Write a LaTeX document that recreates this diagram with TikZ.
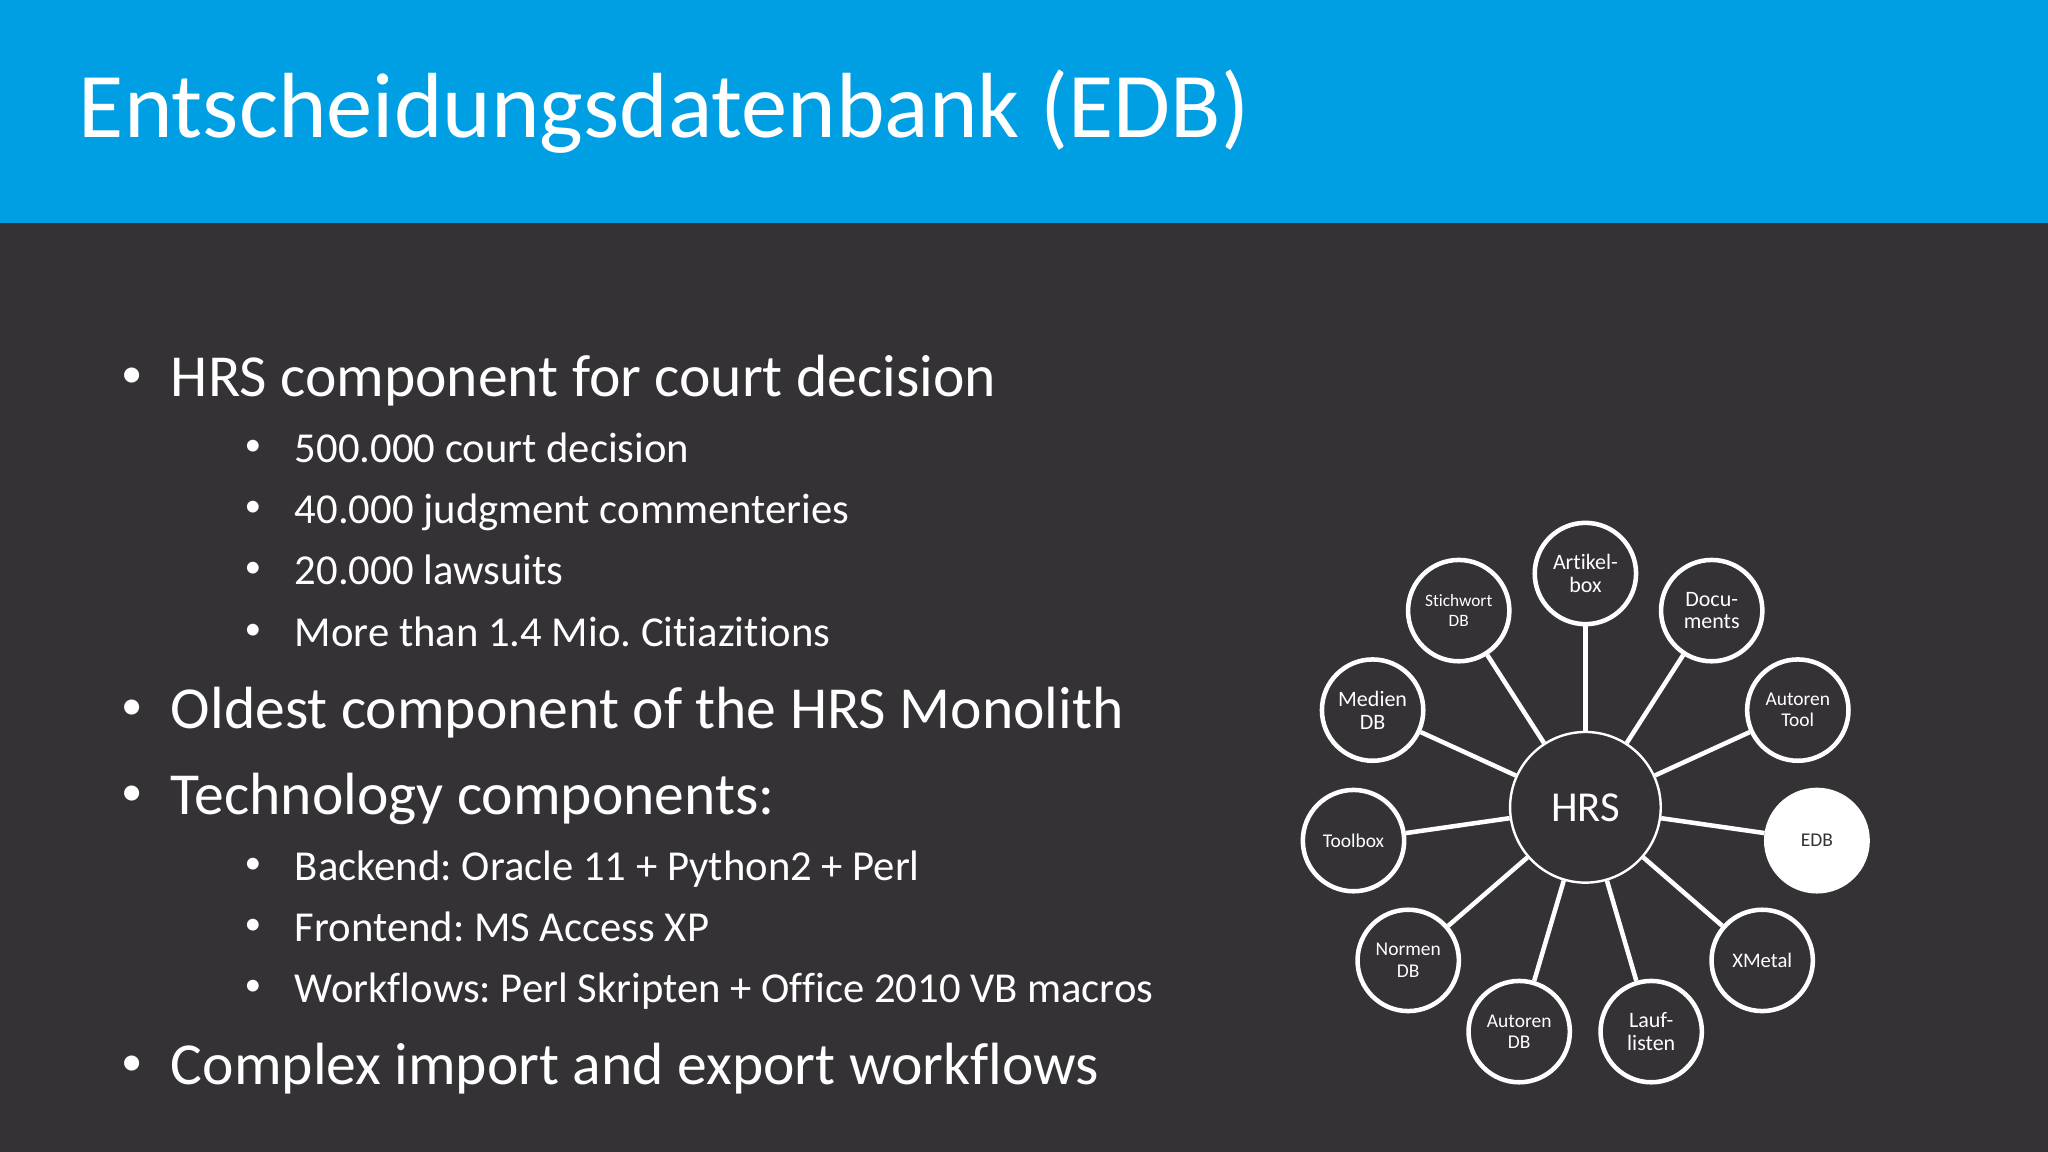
\documentclass[tikz,border=0pt]{standalone}
\usepackage{fontspec}
\setmainfont[Ligatures=NoCommon]{Carlito}
\frenchspacing
\definecolor{bgdark}{RGB}{52,50,53}
\definecolor{barblue}{RGB}{0,159,227}
\tikzset{every picture/.style={line width=0.75pt}}
\tikzset{
  hub/.style={circle,draw=white,line width=1.8pt,fill=bgdark,text=white,minimum size=113pt,inner sep=0pt,align=center,font=\fontsize{32}{36}\selectfont},
  spoke/.style={circle,draw=white,line width=3.4pt,fill=bgdark,text=white,minimum size=76pt,inner sep=0pt,align=center,font=\fontsize{16.5}{17}\selectfont},
  spokesmall/.style={spoke,font=\fontsize{14.6}{16}\selectfont},
  spokesel/.style={spokesmall,fill=white,text=bgdark},
  link/.style={draw=white,line width=3.4pt},
  titletext/.style={anchor=base west,text=white,font=\fontsize{69.4}{70}\selectfont},
  itemone/.style={anchor=base west,text=white,font=\fontsize{44.7}{48}\selectfont},
  itemtwo/.style={anchor=base west,text=white,font=\fontsize{32}{34}\selectfont},
  dotone/.style={anchor=base,text=white,yshift=6.75pt,font=\fontsize{32}{34}\selectfont},
  dottwo/.style={anchor=base,text=white,yshift=5pt,font=\fontsize{25}{28}\selectfont}
}
\begin{document}
\begin{tikzpicture}[x=0.75pt,y=0.75pt,yscale=-1,xscale=1]
		\useasboundingbox (0,0) rectangle (2048,1152);
		%Shape: Rectangle [background]
		\fill [bgdark] (0,0) rectangle (2048,1152);
		%Shape: Rectangle [title bar]
		\fill [barblue] (0,0) rectangle (2048,223);

		% Text Node
		\node [titletext] (title) at (74,138) {Entscheidungsdatenbank (EDB)};

		% Text Node
		\node [dotone] (b1) at (132,396) {•};
		\node [itemone] (t1) at (166,396) {HRS component for court decision};
		\node [dottwo] (b2) at (253,462.5) {•};
		\node [itemtwo] (t2) at (290,462.5) {500.000 court decision};
		\node [dottwo] (b3) at (253,523.5) {•};
		\node [itemtwo] (t3) at (290,523.5) {40.000 judgment commenteries};
		\node [dottwo] (b4) at (253,584.5) {•};
		\node [itemtwo] (t4) at (290,584.5) {20.000 lawsuits};
		\node [dottwo] (b5) at (253,646.5) {•};
		\node [itemtwo] (t5) at (290,646.5) {More than 1.4 Mio. Citiazitions};
		\node [dotone] (b6) at (132,728) {•};
		\node [itemone] (t6) at (166,728) {Oldest component of the HRS Monolith};
		\node [dotone] (b7) at (132,814) {•};
		\node [itemone] (t7) at (166,814) {Technology components:};
		\node [dottwo] (b8) at (253,880.5) {•};
		\node [itemtwo] (t8) at (290,880.5) {Backend: Oracle 11 + Python2 + Perl};
		\node [dottwo] (b9) at (253,941.5) {•};
		\node [itemtwo] (t9) at (290,941.5) {Frontend: MS Access XP};
		\node [dottwo] (b10) at (253,1002.5) {•};
		\node [itemtwo] (t10) at (290,1002.5) {Workflows: Perl Skripten + Office 2010 VB macros};
		\node [dotone] (b11) at (132,1084) {•};
		\node [itemone] (t11) at (166,1084) {Complex import and export workflows};

		% Circle Nodes
		\node [hub] (hrs) at (1585.4,807.3) {HRS};
		\node [spoke] (artikel) at (1585.4,573.5) {Artikel-\\box};
		\node [spoke,font=\fontsize{13}{14.5}\selectfont] (stichwort) at (1458.7,610.6) {Stichwort\\DB};
		\node [spoke] (docu) at (1711.7,610.6) {Docu-\\ments};
		\node [spoke] (medien) at (1372.6,710.1) {Medien\\DB};
		\node [spokesmall] (autorentool) at (1797.8,710.1) {Autoren\\Tool};
		\node [spokesmall] (toolbox) at (1353.5,840.6) {Toolbox};
		\node [spokesel] (edb) at (1816.9,840.6) {EDB};
		\node [spokesmall] (normen) at (1408.2,960.4) {Normen\\DB};
		\node [spoke,font=\fontsize{15.5}{16}\selectfont] (xmetal) at (1762.2,960.4) {XMetal};
		\node [spokesmall] (autorendb) at (1519.2,1031.6) {Autoren\\DB};
		\node [spoke] (lauf) at (1651.2,1031.6) {Lauf-\\listen};

		%Straight Lines
		\draw [link] (hrs) -- (artikel);
		\draw [link] (hrs) -- (stichwort);
		\draw [link] (hrs) -- (docu);
		\draw [link] (hrs) -- (medien);
		\draw [link] (hrs) -- (autorentool);
		\draw [link] (hrs) -- (toolbox);
		\draw [link] (hrs) -- (edb);
		\draw [link] (hrs) -- (normen);
		\draw [link] (hrs) -- (xmetal);
		\draw [link] (hrs) -- (autorendb);
		\draw [link] (hrs) -- (lauf);
\end{tikzpicture}
\end{document}
